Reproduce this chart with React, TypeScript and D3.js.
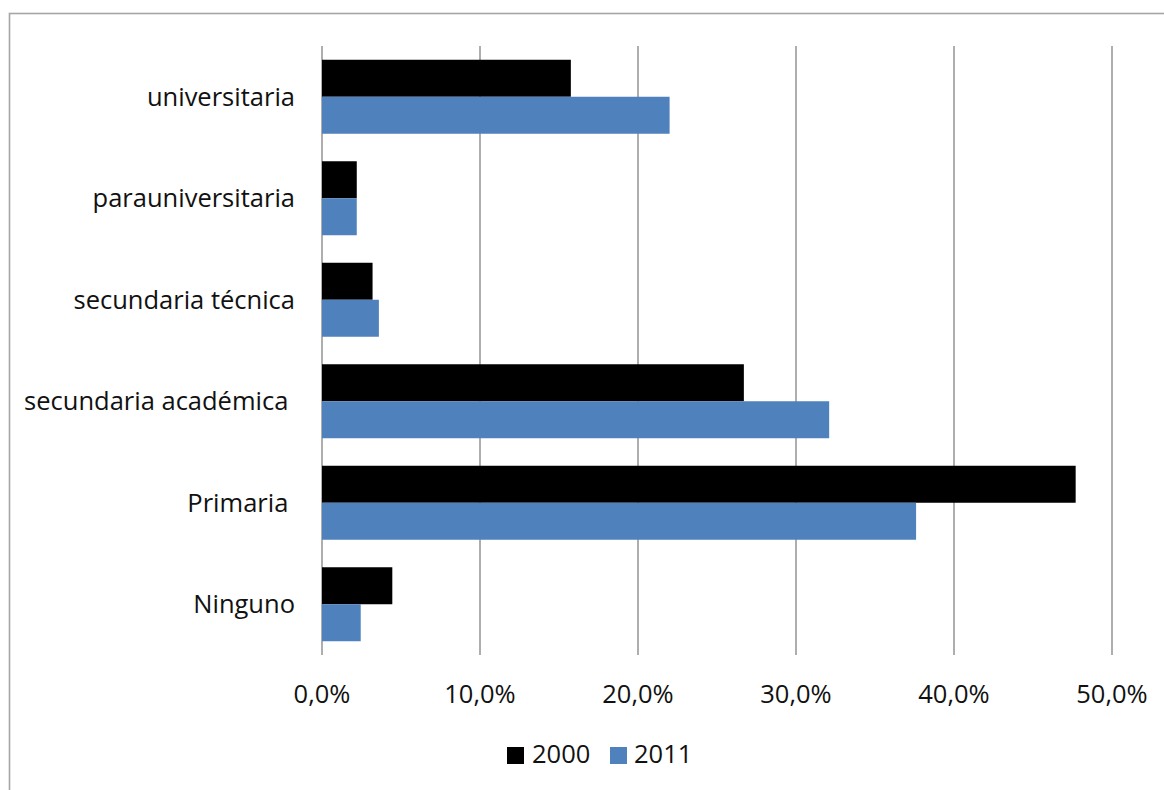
import React from "react";
import * as d3 from "d3";

const categories = [
  "universitaria",
  "parauniversitaria",
  "secundaria técnica",
  "secundaria académica ",
  "Primaria ",
  "Ninguno",
];
const series2000 = [15.75, 2.2, 3.2, 26.7, 47.7, 4.45];
const series2011 = [22.0, 2.2, 3.6, 32.1, 37.6, 2.45];
const seriesNames = ["2000", "2011"];
const seriesColors = ["#000000", "#4F81BD"];
const xTicks = [0, 10, 20, 30, 40, 50];

const W = 1164;
const H = 790;
const FONT = "'Open Sans', 'Noto Sans', sans-serif";
const FS = 25.5;
const TEXT = "#111111";

export default function App() {
  const x = d3.scaleLinear().domain([0, 50]).range([322, 1112]);
  const y = d3
    .scaleBand<string>()
    .domain(categories)
    .range([46, 655])
    .paddingInner(0.271)
    .paddingOuter(0.1355);
  const sub = d3
    .scaleBand<string>()
    .domain(seriesNames)
    .range([0, y.bandwidth()]);
  const fmt = (v: number) => v.toFixed(1).replace(".", ",") + "%";
  const data = [series2000, series2011];

  return (
    <svg
      width={W}
      height={H}
      style={{ position: "absolute", left: 0, top: 0, background: "#fff" }}
      fontFamily={FONT}
    >
      <rect x={0} y={0} width={W} height={H} fill="#fff" />
      <rect
        x={9.5}
        y={13.5}
        width={W + 20}
        height={H + 20}
        fill="none"
        stroke="#a6a6a6"
        strokeWidth={1.6}
      />
      {xTicks.map((t) => (
        <line
          key={"g" + t}
          x1={x(t)}
          x2={x(t)}
          y1={46}
          y2={655}
          stroke="#8c8c8c"
          strokeWidth={1.4}
        />
      ))}
      {categories.map((c, i) => (
        <g key={c}>
          {data.map((s, j) => (
            <rect
              key={j}
              x={x(0)}
              y={(y(c) as number) + (sub(seriesNames[j]) as number)}
              width={x(s[i]) - x(0)}
              height={sub.bandwidth()}
              fill={seriesColors[j]}
            />
          ))}
          <text
            x={295}
            y={(y(c) as number) + y.bandwidth() / 2 + 9}
            textAnchor="end"
            fontSize={FS}
            fill={TEXT}
            style={{ whiteSpace: "pre" }}
          >
            {c}
          </text>
        </g>
      ))}
      {xTicks.map((t) => (
        <text
          key={"t" + t}
          x={x(t)}
          y={703}
          textAnchor="middle"
          fontSize={FS}
          fill={TEXT}
        >
          {fmt(t)}
        </text>
      ))}
      <g>
        <rect x={507} y={747} width={17} height={17} fill={seriesColors[0]} />
        <text x={532} y={762.5} fontSize={FS} fill={TEXT}>
          {seriesNames[0]}
        </text>
        <rect x={610} y={747} width={17} height={17} fill={seriesColors[1]} />
        <text x={634} y={762.5} fontSize={FS} fill={TEXT}>
          {seriesNames[1]}
        </text>
      </g>
    </svg>
  );
}
